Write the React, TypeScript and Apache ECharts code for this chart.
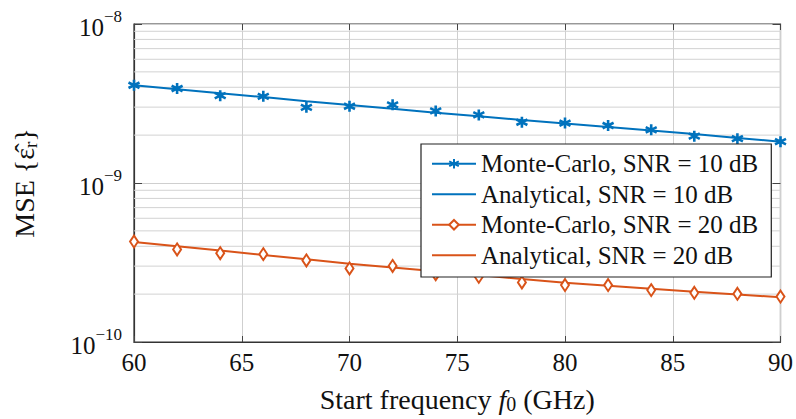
import React, { useEffect, useRef } from "react";
import * as echarts from "echarts";

const freqs = [60, 62, 64, 66, 68, 70, 72, 74, 76, 78, 80, 82, 84, 86, 88, 90];
const mc10 = [4.12e-9, 3.93e-9, 3.54e-9, 3.51e-9, 2.99e-9, 3.04e-9, 3.1e-9, 2.84e-9, 2.68e-9, 2.41e-9, 2.38e-9, 2.3e-9, 2.16e-9, 1.97e-9, 1.9e-9, 1.82e-9];
const an10 = [4.12e-9, 3.89e-9, 3.67e-9, 3.47e-9, 3.27e-9, 3.09e-9, 2.93e-9, 2.77e-9, 2.63e-9, 2.49e-9, 2.37e-9, 2.25e-9, 2.14e-9, 2.03e-9, 1.92e-9, 1.82e-9];
const mc20 = [4.28e-10, 3.82e-10, 3.62e-10, 3.57e-10, 3.26e-10, 2.9e-10, 3.01e-10, 2.67e-10, 2.57e-10, 2.37e-10, 2.28e-10, 2.28e-10, 2.12e-10, 2.04e-10, 2.01e-10, 1.93e-10];
const an20 = [4.26e-10, 4.0e-10, 3.76e-10, 3.52e-10, 3.31e-10, 3.11e-10, 2.94e-10, 2.79e-10, 2.64e-10, 2.49e-10, 2.36e-10, 2.26e-10, 2.16e-10, 2.07e-10, 1.99e-10, 1.91e-10];
const minorGrid = [2e-10, 3e-10, 4e-10, 5e-10, 6e-10, 7e-10, 8e-10, 9e-10, 2e-9, 3e-9, 4e-9, 5e-9, 6e-9, 7e-9, 8e-9, 9e-9];
const xMin = 60;
const xMax = 90;
const seriesNames = [
  "Monte-Carlo, SNR = 10 dB",
  "Analytical, SNR = 10 dB",
  "Monte-Carlo, SNR = 20 dB",
  "Analytical, SNR = 20 dB",
];

const BLUE = "#0072BD";
const ORANGE = "#D95319";
const FONT = "Liberation Serif";
const ASTERISK = "path://M5,0L5,10M0.67,2.5L9.33,7.5M0.67,7.5L9.33,2.5";

const pairs = (ys: number[]) => freqs.map((f, i) => [f, ys[i]]);

export default function App() {
  const ref = useRef<HTMLDivElement>(null);
  useEffect(() => {
    document.body.style.margin = "0";
    const chart = echarts.init(ref.current!, null, { renderer: "svg" });
    const supLabel = (v: number) => {
      const e = Math.round(Math.log10(v));
      return "{b|10}{s|\u2212" + Math.abs(e) + "}";
    };
    const labelRich = {
      b: { fontFamily: FONT, fontSize: 25, color: "#111", verticalAlign: "bottom" },
      s: { fontFamily: FONT, fontSize: 17, color: "#111", lineHeight: 32, verticalAlign: "top" },
    };
    const gridSeries = minorGrid.map((v) => ({
      type: "line",
      data: [[xMin, v], [xMax, v]],
      symbol: "none",
      silent: true,
      lineStyle: { color: "#d2d2d2", width: 1 },
      z: 1,
    }));
    chart.setOption({
      animation: false,
      backgroundColor: "#fff",
      grid: { left: 134, right: 14, top: 24, bottom: 73, show: true, borderColor: "#333", borderWidth: 1.2, backgroundColor: "transparent" },
      xAxis: [
        {
          type: "value", min: xMin, max: xMax, interval: 5,
          axisLine: { show: true, lineStyle: { color: "#333", width: 1.2 } },
          axisTick: { show: true, inside: true, length: 6, lineStyle: { color: "#444" } },
          axisLabel: { fontFamily: FONT, fontSize: 25, color: "#111", margin: 8 },
          splitLine: { show: true, lineStyle: { color: "#cfcfcf", width: 1 } },
          name: "{n|Start frequency }{i|f}{sub|0}{n| (GHz)}",
          nameLocation: "middle", nameGap: 42,
          nameTextStyle: {
            fontFamily: FONT, fontSize: 28, color: "#111",
            rich: {
              n: { fontFamily: FONT, fontSize: 28, color: "#111" },
              i: { fontFamily: FONT, fontSize: 28, color: "#111", fontStyle: "italic" },
              sub: { fontFamily: FONT, fontSize: 20, color: "#111", padding: [10, 0, 0, 0] },
            },
          },
        },
        {
          type: "value", min: xMin, max: xMax, interval: 5, position: "top",
          axisLine: { show: false },
          axisTick: { show: true, inside: true, length: 6, lineStyle: { color: "#444" } },
          axisLabel: { show: false }, splitLine: { show: false },
        },
      ],
      yAxis: [
        {
          type: "log", logBase: 10, min: 1e-10, max: 1e-8,
          axisLine: { show: true, lineStyle: { color: "#333", width: 1.2 } },
          axisTick: { show: true, inside: true, length: 8, lineStyle: { color: "#444" } },
          axisLabel: { margin: 12, formatter: supLabel, rich: labelRich },
          splitLine: { show: true, lineStyle: { color: "#cfcfcf", width: 1 } },
          name: "{n|MSE {}{e|\u03b5\u0302}{r|r}}",
          nameLocation: "middle", nameRotate: 90, nameGap: 94,
          nameTextStyle: {
            fontFamily: FONT, fontSize: 28, color: "#111",
            rich: {
              n: { fontFamily: FONT, fontSize: 28, color: "#111" },
              e: { fontFamily: FONT, fontSize: 28, color: "#111" },
              r: { fontFamily: FONT, fontSize: 19, color: "#111", padding: [12, 0, 0, 0] },
            },
          },
        },
        {
          type: "log", logBase: 10, min: 1e-10, max: 1e-8, position: "right",
          axisLine: { show: false },
          axisTick: { show: true, inside: true, length: 8, lineStyle: { color: "#444" } },
          axisLabel: { show: false }, splitLine: { show: false },
        },
      ],
      legend: {
        left: 421, top: 144, orient: "vertical",
        backgroundColor: "#fff", borderColor: "#222", borderWidth: 1.2, borderRadius: 0,
        padding: [7, 13, 9, 10], itemGap: 5, itemWidth: 44, itemHeight: 12,
        textStyle: { fontFamily: FONT, fontSize: 25, color: "#111", lineHeight: 25.5 },
        data: [
          { name: seriesNames[0], lineStyle: { opacity: 1, width: 2, color: BLUE } },
          { name: seriesNames[1], itemStyle: { opacity: 0 } },
          { name: seriesNames[2], lineStyle: { opacity: 1, width: 2, color: ORANGE } },
          { name: seriesNames[3], itemStyle: { opacity: 0 } },
        ],
      },
      series: [
        ...gridSeries,
        {
          name: seriesNames[1], type: "line", data: pairs(an10), showSymbol: false, symbol: "none",
          lineStyle: { color: BLUE, width: 2 }, itemStyle: { color: BLUE }, z: 2,
        },
        {
          name: seriesNames[3], type: "line", data: pairs(an20), showSymbol: false, symbol: "none",
          lineStyle: { color: ORANGE, width: 2 }, itemStyle: { color: ORANGE }, z: 2,
        },
        {
          name: seriesNames[0], type: "line", data: pairs(mc10), symbol: ASTERISK, symbolSize: 11, showSymbol: true,
          lineStyle: { opacity: 0, color: BLUE, width: 2 },
          itemStyle: { color: BLUE, borderColor: BLUE, borderWidth: 2.6 }, z: 3,
        },
        {
          name: seriesNames[2], type: "line", data: pairs(mc20), symbol: "diamond", symbolSize: [8, 12], showSymbol: true,
          lineStyle: { opacity: 0, color: ORANGE, width: 2 },
          itemStyle: { color: "#fff", borderColor: ORANGE, borderWidth: 2 }, z: 3,
        },
      ],
    });
    return () => chart.dispose();
  }, []);
  return <div ref={ref} style={{ width: 796, height: 419 }} />;
}
